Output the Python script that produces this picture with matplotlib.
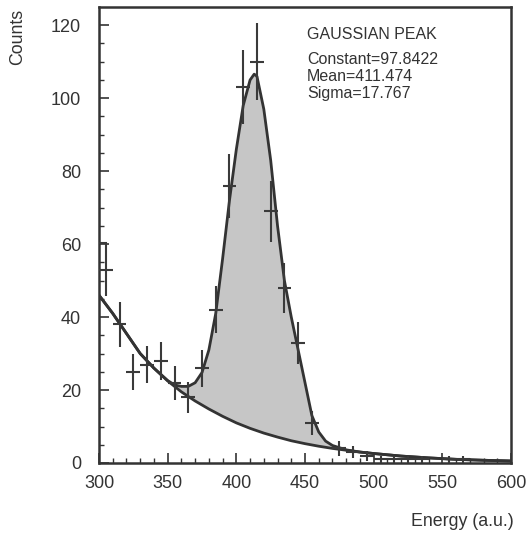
import numpy as np
import matplotlib
matplotlib.use('Agg')
import matplotlib.pyplot as plt

plt.rcParams['font.family'] = ['Liberation Sans', 'DejaVu Sans']

# histogram bins (centers, width 10)
bin_centers = [305, 315, 325, 335, 345, 355, 365, 375, 385, 395,
               405, 415, 425, 435, 445, 455, 465, 475, 485, 495,
               505, 515, 525, 535, 545, 555, 565, 575, 585, 595]
counts = [53, 38, 25, 27, 28, 22, 18, 26, 42, 76,
          103, 110, 69, 48, 33, 11, 0, 4, 3, 2,
          1, 1, 1, 1, 0, 1, 1, 0, 0, 0]
bin_half = 5

# fitted curves
bkg_x = [300, 310, 320, 330, 340, 350, 360, 370, 380, 390, 400, 410, 420,
         430, 440, 450, 460, 470, 480, 490, 500, 520, 540, 560, 580, 600]
bkg_y = [46, 41, 35.5, 30, 26, 22.5, 19.5, 17.0, 14.8, 12.8, 11.0, 9.5, 8.2,
         7.1, 6.1, 5.3, 4.6, 4.0, 3.5, 3.0, 2.6, 1.9, 1.4, 1.0, 0.75, 0.55]

tot_x = [300, 310, 320, 330, 340, 350, 355, 360, 365, 370, 375, 380, 385, 390,
         395, 400, 405, 410, 413, 415, 420, 425, 430, 435, 440, 445, 450,
         455, 460, 465, 470, 475, 480, 490, 500, 520, 540, 560, 580, 600]
tot_y = [46, 41, 35.5, 30, 26, 22.6, 21.4, 21.0, 21.0, 22.0, 24.8, 31, 41, 56,
         72, 86, 98, 105, 106.6, 106, 97, 83, 65, 50, 40, 31, 22,
         13, 8.5, 6.0, 4.8, 4.2, 3.6, 3.0, 2.6, 1.9, 1.4, 1.0, 0.75, 0.55]

fit_title = 'GAUSSIAN PEAK'
fit_lines = ['Constant=97.8422', 'Mean=411.474', 'Sigma=17.767']

dark = '#333333'

fig = plt.figure(figsize=(5.3, 5.36), dpi=100)
ax = fig.add_axes([0.1868, 0.1362, 0.7774, 0.8507])

# shaded peak area between background and total fit
gx = np.array(tot_x, dtype=float)
gb = np.interp(gx, bkg_x, bkg_y)
gt = np.array(tot_y, dtype=float)
ax.fill_between(gx, gb, gt, where=gt > gb + 0.3, color='#c6c6c6', lw=0, zorder=1)

ax.plot(bkg_x, bkg_y, color=dark, lw=2, zorder=3)
ax.plot(tot_x, tot_y, color=dark, lw=2, zorder=3)

# data points with sqrt(N) errors, empty bins not drawn
c = np.array(counts, dtype=float)
xc = np.array(bin_centers, dtype=float)
m = c > 0
ax.errorbar(xc[m], c[m], yerr=np.sqrt(c[m]), xerr=bin_half, fmt='none',
            ecolor='#3a3a3a', elinewidth=1.5, capsize=0, zorder=4)
# little box edge at the first bin
ax.plot([xc[0] - bin_half, xc[0]], [c[0] + np.sqrt(c[0])] * 2, color='#3a3a3a', lw=1.5, zorder=4)

ax.set_xlim(300, 600)
ax.set_ylim(0, 125)
ax.set_xticks(np.arange(300, 601, 50))
ax.set_xticks(np.arange(300, 601, 10), minor=True)
ax.set_yticks(np.arange(0, 121, 20))
ax.set_yticks(np.arange(0, 125, 5), minor=True)
ax.tick_params(which='both', direction='in', colors=dark, labelsize=13)
ax.tick_params(which='major', length=7, width=1.2)
ax.tick_params(which='minor', length=3.5, width=1)
ax.tick_params(axis='x', pad=9)
ax.tick_params(axis='y', pad=13)
for s in ax.spines.values():
    s.set_color(dark)
    s.set_linewidth(1.8)

ax.text(0.505, 0.956, fit_title, transform=ax.transAxes, fontsize=11.5,
        color=dark, va='top', ha='left')
for i, t in enumerate(fit_lines):
    ax.text(0.505, 0.901 - i * 0.0373, t, transform=ax.transAxes, fontsize=11.5,
            color=dark, va='top', ha='left')

fig.text(0.034, 1 - 37 / 536, 'Counts', rotation=90, ha='center', va='center',
         fontsize=12.8, color=dark)
fig.text(462 / 530, 1 - 522 / 536, 'Energy (a.u.)', ha='center', va='center',
         fontsize=12.8, color=dark)

fig.savefig('out.png', dpi=100)
